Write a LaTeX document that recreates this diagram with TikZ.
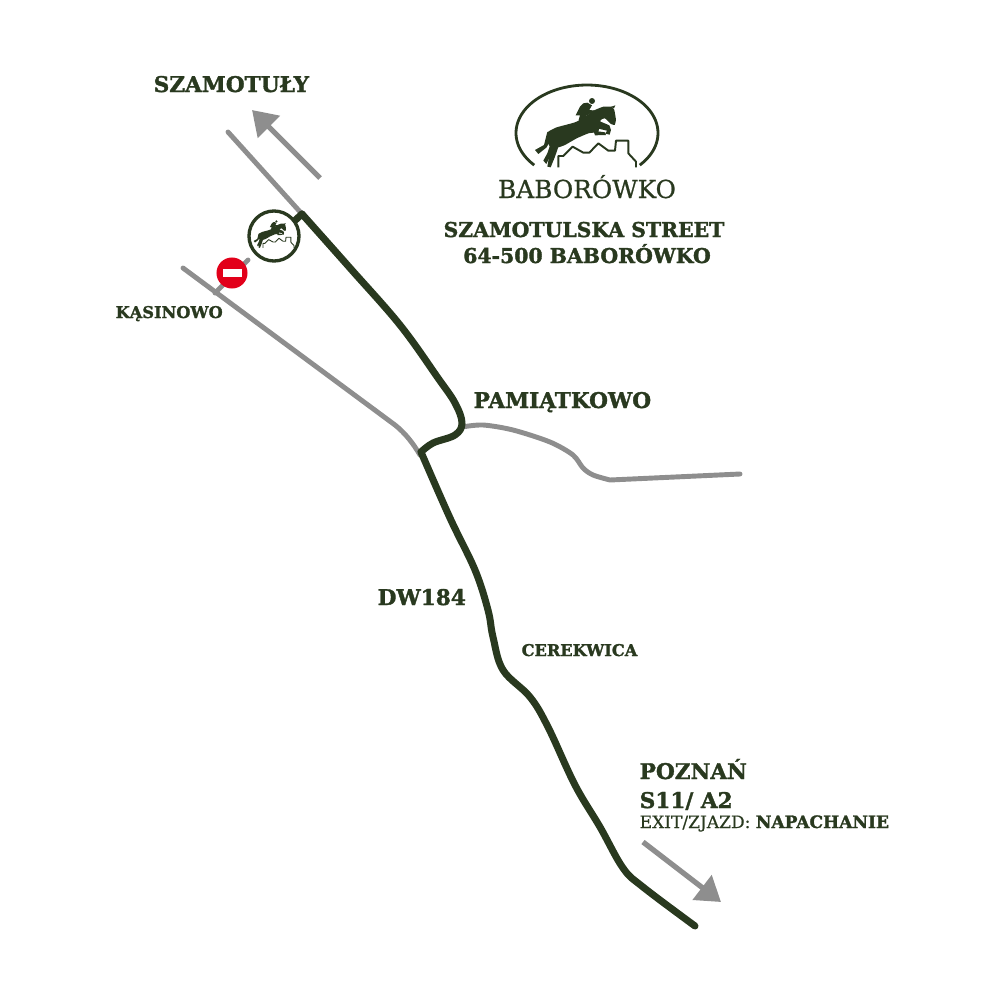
\documentclass[tikz,border=0pt]{standalone}
\usepackage{fontspec}
\setmainfont{DejaVu Serif}
\newfontfamily\slabfont[FakeBold=1.6]{DejaVu Serif Bold}
\newfontfamily\logofont[FakeBold=0.8]{DejaVu Serif}
\newfontfamily\exitfont[FakeBold=0.6]{DejaVu Serif}
\usetikzlibrary{arrows.meta}
\definecolor{roaddark}{HTML}{29391F}
\definecolor{roadgray}{HTML}{8E8E8E}
\definecolor{signred}{HTML}{E2001A}
\tikzset{>=stealth}
\tikzset{
	darkroad/.style = {color = roaddark, line width = 2pt, line cap = round, line join = round},
	grayroad/.style = {color = roadgray, line width = 1.4pt, line cap = round, line join = round},
	way/.style = {color = roadgray, line width = 1.5pt, -{Triangle[length = 6.8pt, width = 8.6pt]}},
	town/.style = {anchor = base west, inner sep = 0pt, text = roaddark, font = \fontsize{6.15}{7}\slabfont},
	address/.style = {anchor = base, inner sep = 0pt, text = roaddark, font = \fontsize{5.8}{7}\slabfont},
	village/.style = {anchor = base west, inner sep = 0pt, text = roaddark, font = \fontsize{4.6}{6}\slabfont}
}
\newcommand{\jumphorse}[1]{
	\fill[roaddark] plot[smooth cycle, tension = 0.2] coordinates {(55,125) (80,112) (125,100) (140,95) (165,80) (190,62) (220,50) (245,50) (253,60) (258,90) (254,105) (243,102) (225,85) (212,90) (205,125) (175,130) (140,145) (105,165) (85,172) (60,170) (50,150)};
	\fill[roaddark] (252,55) -- (256,46) -- (244,50) -- cycle;
	\fill[roaddark] (205,92) -- (238,106) -- (243,120) -- (239,134) -- (226,131) -- (231,122) -- (205,116) -- cycle;
	\fill[roaddark] (190,122) -- (225,127) -- (228,135) -- (195,136) -- cycle;
	\fill[roaddark] (52,125) -- (42,165) -- (15,180) -- (25,192) -- (50,172) -- (64,145) -- cycle;
	\fill[roaddark] (88,162) -- (75,200) -- (62,232) -- (52,230) -- (58,195) -- (62,165) -- cycle;
	\fill[roaddark] (62,160) -- (52,190) -- (40,212) -- (49,222) -- (65,190) -- (78,168) -- cycle;
	\fill[roaddark] (186,33) circle (9);
	\fill[roaddark] (172,38) -- (186,46) -- (178,60) -- (196,62) -- (170,76) -- (160,92) -- (146,90) -- (150,76) -- (137,76) -- (150,50) -- (160,40) -- cycle;
	\draw[roaddark, line width = #1, line join = round] (85,232) -- (85,198) -- (100,198) -- (128,170) -- (160,188) -- (178,188) -- (205,160) -- (235,182) -- (255,182) -- (258,152) -- (295,152) -- (295,190) -- (318,215) -- (318,232);
}
\begin{document}
\begin{tikzpicture}[x = 0.01cm, y = -0.01cm]
	\useasboundingbox (0,0) rectangle (1000,1000);
	% side roads
	\draw[grayroad] (228,132) -- (302,214);
	\draw[grayroad] (183,268) -- (395,425) .. controls (405,433) and (413,443) .. (420,455);
	\draw[grayroad] (215,293) -- (248,260);
	\draw[grayroad] plot[smooth, tension = 0.5] coordinates {(462,427) (483,425) (513,430) (550,442) (573,455) (583,468) (593,475) (610,480)} -- (740,474);
	% main road
	\draw[darkroad] plot[smooth, tension = 0.6] coordinates {(302,214) (350,268) (400,325) (438,378) (455,403) (462,423) (455,435) (433,443) (421,452)};
	\draw[darkroad] plot[smooth, tension = 0.6] coordinates {(421,452) (450,518) (475,570) (488,610) (493,637) (503,670) (530,697) (548,727) (575,785) (600,827) (623,868) (643,887) (695,926)};
	\draw[darkroad] (290,225) -- (302,214);
	% direction arrows
	\draw[way] (320,178) -- (252,110);
	\draw[way] (643,842) -- (721,902);
	% map marker
	\node (marker) at (274,236) [circle, draw = roaddark, fill = white, line width = 0.95pt, minimum size = 0.5cm, inner sep = 0pt] {};
	\begin{scope}[shift = {(251.7,217)}, scale = 0.133]
		\jumphorse{0.25pt}
	\end{scope}
	% no entry sign
	\node (noentry) at (232,273) [circle, fill = signred, minimum size = 0.31cm, inner sep = 0pt] {};
	\fill[white] (222.5,269) rectangle (241.5,277);
	% logo
	\draw[roaddark, line width = 0.8pt] plot[domain = 138:402, samples = 80] ({587 + 71*cos(\x)}, {133 + 48*sin(\x)});
	\begin{scope}[shift = {(530,90)}, scale = 0.3333]
		\jumphorse{0.55pt}
	\end{scope}
	\node (logoname) at (587,198) [anchor = base, inner sep = 0pt, text = roaddark, font = \fontsize{7.05}{8}\logofont] {BABORÓWKO};
	\node (street) at (584,237) [address] {SZAMOTULSKA STREET};
	\node (postcode) at (587,263) [address] {64-500 BABORÓWKO};
	% place names
	\node (szamotuly) at (153,92) [town] {SZAMOTUŁY};
	\node (kasinowo) at (115,318) [village] {KĄSINOWO};
	\node (pamiatkowo) at (473,408) [town] {PAMIĄTKOWO};
	\node (dw) at (377,605) [town] {DW184};
	\node (cerekwica) at (521,656) [village] {CEREKWICA};
	\node (poznan) at (639,779) [town] {POZNAŃ};
	\node (exitroad) at (639,808) [town] {S11/ A2};
	\node (exitname) at (639,828) [village, font = \fontsize{4.85}{6}\slabfont] {{\exitfont EXIT/ZJAZD: }NAPACHANIE};
\end{tikzpicture}
\end{document}
